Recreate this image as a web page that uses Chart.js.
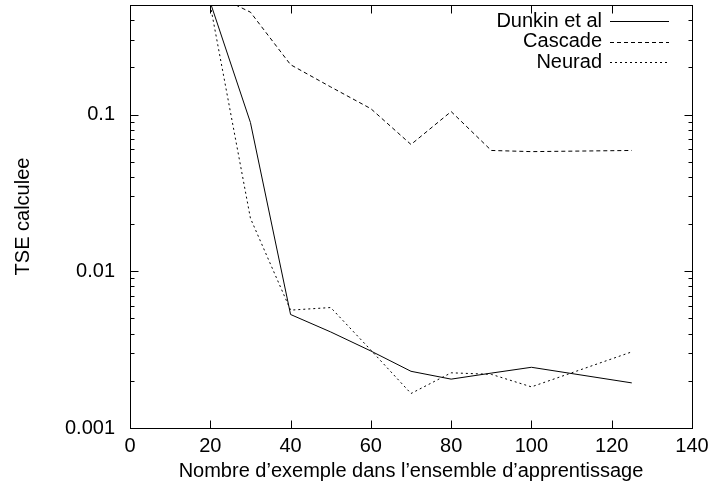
<!DOCTYPE html>
<html>
<head>
<meta charset="utf-8">
<script src="https://cdn.jsdelivr.net/npm/chart.js@4.4.1/dist/chart.umd.min.js"></script>
<style>
  html, body { margin: 0; padding: 0; background: #fff; }
  canvas { display: block; }
</style>
</head>
<body>
<canvas id="grafico" width="714" height="491"></canvas>
<script>
// tailles d'ensemble d'apprentissage
const exemples = [20, 30, 40, 50, 60, 70, 80, 90, 100, 125];

// TSE calculee pour chaque methode
const dunkin  = [0.52, 0.089, 0.0053, 0.0041, 0.0031, 0.0023, 0.00205, 0.00224, 0.00244, 0.00194];
const cascade = [0.6, 0.45, 0.208, 0.15, 0.109, 0.0644, 0.1045, 0.059, 0.058, 0.059];
const neurad  = [0.5, 0.0218, 0.00565, 0.00587, 0.00314, 0.00166, 0.00225, 0.0022, 0.00183, 0.00306];

const ticksX = [0, 20, 40, 60, 80, 100, 120, 140];
const ticksY = [0.001, 0.01, 0.1];
const ticksYMineurs = [0.002, 0.003, 0.004, 0.005, 0.006, 0.007, 0.008, 0.009,
                       0.02, 0.03, 0.04, 0.05, 0.06, 0.07, 0.08, 0.09,
                       0.2, 0.3, 0.4];

const police = "'Liberation Sans', Arial, Helvetica, sans-serif";

function serie(label, valeurs, dash) {
    return {
        label,
        data: exemples.map((x, i) => ({ x, y: valeurs[i] })),
        borderColor: "#000",
        borderWidth: 1,
        borderDash: dash,
        pointRadius: 0,
        fill: false,
        tension: 0
    };
}

// cadre, graduations vers l'interieur et legende facon gnuplot
const cadre = {
    id: "cadre",
    afterDatasetsDraw(chart) {
        const { ctx, chartArea: a, scales: { x, y } } = chart;
        const g = Math.round(a.left) + 0.5, d = Math.round(a.right) + 0.5;
        const h = Math.round(a.top) + 0.5, b = Math.round(a.bottom) + 0.5;
        ctx.save();
        ctx.strokeStyle = "#000";
        ctx.lineWidth = 1;
        ctx.setLineDash([]);
        ctx.beginPath();
        ticksX.forEach(v => {
            const px = Math.round(x.getPixelForValue(v)) + 0.5;
            ctx.moveTo(px, b); ctx.lineTo(px, b - 8);
            ctx.moveTo(px, h); ctx.lineTo(px, h + 8);
        });
        ticksY.forEach(v => {
            const py = Math.round(y.getPixelForValue(v)) + 0.5;
            ctx.moveTo(g, py); ctx.lineTo(g + 8, py);
            ctx.moveTo(d, py); ctx.lineTo(d - 8, py);
        });
        ticksYMineurs.forEach(v => {
            const py = Math.round(y.getPixelForValue(v)) + 0.5;
            ctx.moveTo(g, py); ctx.lineTo(g + 4, py);
            ctx.moveTo(d, py); ctx.lineTo(d - 4, py);
        });
        ctx.stroke();
        ctx.strokeRect(g, h, d - g, b - h);

        // legende
        ctx.font = "20px " + police;
        ctx.fillStyle = "#000";
        ctx.textAlign = "right";
        ctx.textBaseline = "middle";
        chart.data.datasets.forEach((ds, i) => {
            const ly = 21 + i * 20.5;
            ctx.fillText(ds.label, 602, ly);
            ctx.setLineDash(ds.borderDash || []);
            ctx.beginPath();
            ctx.moveTo(610, Math.round(ly) + 0.5);
            ctx.lineTo(669, Math.round(ly) + 0.5);
            ctx.stroke();
        });
        ctx.restore();
    }
};

new Chart(document.getElementById("grafico"), {
    type: "line",
    data: {
        datasets: [
            serie("Dunkin et al", dunkin, []),
            serie("Cascade", cascade, [4, 3]),
            serie("Neurad", neurad, [2, 3])
        ]
    },
    options: {
        responsive: false,
        animation: false,
        events: [],
        layout: { padding: { top: 5, right: 22, left: 0, bottom: 0 } },
        plugins: {
            legend: { display: false },
            tooltip: { enabled: false }
        },
        scales: {
            x: {
                type: "linear",
                min: 0,
                max: 140,
                grid: { display: false, drawTicks: false },
                border: { display: false },
                afterBuildTicks: s => { s.ticks = ticksX.map(v => ({ value: v })); },
                afterFit: s => { s.height = 63; s.paddingLeft = 0; s.paddingRight = 0; },
                ticks: {
                    padding: 6,
                    maxRotation: 0,
                    color: "#000",
                    font: { family: police, size: 20 }
                },
                title: {
                    display: true,
                    text: "Nombre d\u2019exemple dans l\u2019ensemble d\u2019apprentissage",
                    color: "#000",
                    font: { family: police, size: 20 },
                    padding: { top: 0, bottom: 8 }
                }
            },
            y: {
                type: "logarithmic",
                min: 0.001,
                max: 0.5,
                grid: { display: false, drawTicks: false },
                border: { display: false },
                afterBuildTicks: s => { s.ticks = ticksY.map(v => ({ value: v })); },
                afterFit: s => { s.width = 130; s.paddingTop = 0; s.paddingBottom = 0; },
                ticks: {
                    padding: 15,
                    color: "#000",
                    font: { family: police, size: 20 },
                    callback: v => String(v)
                },
                title: {
                    display: true,
                    text: "TSE calculee",
                    color: "#000",
                    font: { family: police, size: 20 },
                    padding: { top: 11, bottom: 0 }
                }
            }
        }
    },
    plugins: [cadre]
});
</script>
</body>
</html>
